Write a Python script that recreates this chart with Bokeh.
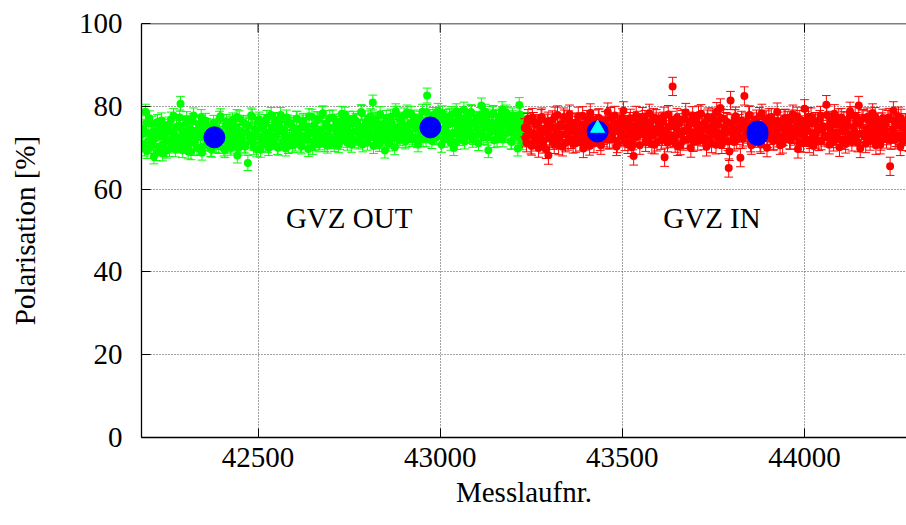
import math
from bokeh.plotting import figure
from bokeh.models import FixedTicker, Label, Span
from bokeh.embed import file_html
from bokeh.resources import INLINE

# ---------------- data ----------------
green_run = [
    42182, 42186, 42191, 42195, 42200, 42205, 42209, 42214, 42219, 42224,
    42228, 42233, 42238, 42242, 42247, 42252, 42257, 42261, 42266, 42271,
    42276, 42280, 42285, 42287, 42292, 42297, 42302, 42306, 42311, 42316,
    42321, 42325, 42330, 42335, 42340, 42344, 42349, 42354, 42359, 42363,
    42368, 42373, 42378, 42383, 42387, 42392, 42397, 42402, 42406, 42411,
    42416, 42421, 42425, 42430, 42435, 42440, 42443, 42448, 42453, 42458,
    42462, 42467, 42472, 42477, 42481, 42486, 42491, 42496, 42500, 42505,
    42510, 42515, 42519, 42524, 42529, 42534, 42538, 42543, 42548, 42553,
    42557, 42562, 42567, 42572, 42576, 42581, 42586, 42591, 42595, 42600,
    42605, 42610, 42614, 42619, 42624, 42629, 42633, 42638, 42643, 42648,
    42652, 42657, 42662, 42667, 42671, 42676, 42681, 42686, 42690, 42695,
    42700, 42705, 42709, 42714, 42719, 42724, 42728, 42733, 42738, 42743,
    42747, 42752, 42757, 42762, 42766, 42771, 42776, 42781, 42785, 42790,
    42795, 42800, 42804, 42809, 42815, 42819, 42823, 42828, 42833, 42838,
    42842, 42848, 42852, 42857, 42861, 42866, 42871, 42875, 42880, 42885,
    42890, 42894, 42899, 42904, 42909, 42913, 42918, 42923, 42928, 42932,
    42937, 42942, 42947, 42951, 42956, 42961, 42964, 42970, 42975, 42980,
    42985, 42989, 42994, 42999, 43004, 43008, 43013, 43018, 43023, 43027,
    43032, 43037, 43042, 43046, 43051, 43056, 43061, 43065, 43070, 43075,
    43080, 43084, 43089, 43094, 43099, 43103, 43108, 43113, 43118, 43122,
    43127, 43132, 43137, 43141, 43146, 43151, 43156, 43160, 43165, 43170,
    43175, 43179, 43184, 43189, 43194, 43198, 43203, 43208, 43213, 43217,
    43222, 43226,
    # second pass
    42184, 42188, 42193, 42198, 42202, 42207, 42212, 42216, 42221, 42226,
    42231, 42235, 42240, 42245, 42249, 42254, 42259, 42264, 42268, 42273,
    42278, 42283, 42289, 42294, 42299, 42304, 42308, 42313, 42318, 42323,
    42327, 42332, 42337, 42342, 42346, 42351, 42356, 42361, 42366, 42370,
    42375, 42380, 42385, 42390, 42394, 42399, 42404, 42409, 42413, 42418,
    42423, 42428, 42432, 42437, 42442, 42446, 42450, 42455, 42460, 42465,
    42469, 42474, 42479, 42484, 42488, 42493, 42498, 42503, 42507, 42512,
    42517, 42521, 42526, 42531, 42536, 42540, 42545, 42550, 42555, 42559,
    42564, 42569, 42574, 42578, 42583, 42588, 42593, 42597, 42602, 42607,
    42612, 42616, 42621, 42626, 42631, 42635, 42640, 42645, 42650, 42654,
    42659, 42664, 42669, 42673, 42678, 42683, 42688, 42692, 42697, 42702,
    42707, 42711, 42716, 42721, 42726, 42730, 42735, 42740, 42745, 42749,
    42754, 42759, 42764, 42768, 42773, 42778, 42783, 42787, 42792, 42797,
    42802, 42806, 42812, 42817, 42821, 42825, 42830, 42835, 42840, 42845,
    42850, 42854, 42859, 42864, 42868, 42873, 42878, 42882, 42887, 42892,
    42896, 42901, 42906, 42911, 42915, 42920, 42925, 42930, 42934, 42939,
    42944, 42949, 42953, 42958, 42963, 42967, 42972, 42977, 42982, 42987,
    42991, 42996, 43001, 43006, 43010, 43015, 43020, 43025, 43029, 43034,
    43039, 43044, 43048, 43053, 43058, 43063, 43067, 43072, 43077, 43082,
    43086, 43091, 43096, 43101, 43105, 43110, 43115, 43120, 43124, 43129,
    43134, 43139, 43143, 43148, 43153, 43158, 43162, 43167, 43172, 43177,
    43181, 43186, 43191, 43196, 43200, 43205, 43210, 43215, 43219, 43224,
    43228, 43230,
]
green_pol = [
    70.8, 74.6, 78.7, 69.2, 73.5, 71.1, 75.8, 67.9, 72.7, 76.2,
    70.1, 73.9, 68.6, 75.1, 71.8, 74.4, 69.7, 76.8, 72.2, 70.5,
    74.9, 71.3, 77.3, 80.6, 69.4, 73.2, 75.9, 70.6, 72.9, 68.9,
    76.4, 71.7, 74.1, 69.9, 73.6, 77.4, 70.3, 72.5, 75.3, 71.0,
    73.8, 69.5, 76.0, 71.9, 74.7, 70.4, 77.6, 72.8, 69.8, 75.4,
    71.5, 74.2, 70.0, 76.6, 72.3, 74.8, 68.1, 77.1, 71.4, 73.7,
    70.7, 75.6, 66.3, 73.0, 77.8, 71.2, 74.5, 69.6, 76.3, 72.6,
    70.9, 75.0, 73.3, 77.2, 69.9, 72.1, 74.9, 71.6, 76.7, 70.2,
    73.9, 77.9, 71.3, 74.3, 69.8, 76.1, 72.4, 75.5, 70.6, 73.1,
    77.0, 71.8, 74.6, 70.3, 76.5, 72.7, 75.2, 69.7, 73.5, 77.5,
    71.1, 74.0, 76.9, 70.8, 73.4, 78.1, 72.0, 75.7, 70.5, 74.8,
    72.2, 77.3, 70.9, 75.1, 73.6, 71.4, 76.4, 74.3, 78.0, 71.9,
    75.4, 72.6, 70.7, 77.0, 73.9, 76.2, 71.5, 74.7, 78.4, 72.9,
    75.8, 71.2, 73.7, 77.6, 80.9, 72.4, 76.6, 74.1, 70.9, 75.3,
    73.0, 69.3, 77.2, 74.6, 71.7, 76.0, 73.4, 70.1, 78.2, 75.0,
    72.3, 76.8, 74.2, 71.5, 78.5, 73.6, 75.9, 72.1, 77.3, 74.9,
    71.8, 76.3, 73.2, 78.7, 74.5, 72.0, 82.6, 76.6, 73.8, 77.9,
    75.2, 72.5, 78.9, 74.0, 70.7, 76.9, 73.5, 77.4, 75.6, 72.2,
    78.1, 69.9, 76.2, 71.4, 77.7, 73.9, 75.5, 79.2, 72.8, 76.4,
    74.1, 78.6, 71.9, 75.8, 77.0, 73.3, 76.7, 80.2, 72.6, 75.1,
    77.5, 69.4, 73.7, 76.1, 78.4, 74.4, 72.0, 77.2, 75.7, 79.3,
    73.1, 76.5, 78.0, 74.7, 71.5, 77.8, 75.3, 72.9, 69.8, 80.3,
    74.2, 71.3,
    # second pass
    73.4, 69.8, 75.9, 71.6, 77.1, 70.4, 73.9, 72.1, 68.7, 75.0,
    72.8, 76.6, 70.9, 73.2, 69.3, 75.6, 71.4, 73.8, 77.7, 69.6,
    72.4, 75.3, 70.7, 74.0, 71.9, 76.9, 69.1, 74.6, 71.2, 77.8,
    73.0, 70.0, 75.7, 72.6, 68.8, 74.3, 76.5, 71.1, 73.5, 69.7,
    75.1, 72.2, 70.6, 74.4, 77.0, 71.8, 73.3, 69.4, 76.2, 72.9,
    70.5, 75.8, 73.6, 71.0, 77.4, 69.9, 74.1, 72.4, 76.0, 70.3,
    73.8, 75.3, 71.7, 77.5, 70.1, 74.0, 72.8, 76.8, 69.5, 74.7,
    72.0, 76.2, 70.6, 73.7, 77.9, 71.3, 75.1, 72.9, 70.0, 76.4,
    74.5, 71.5, 73.1, 77.3, 70.4, 75.9, 72.6, 74.8, 71.0, 77.0,
    73.3, 70.7, 76.1, 72.4, 74.9, 71.9, 77.6, 73.6, 70.2, 75.5,
    72.8, 76.8, 71.3, 74.2, 78.3, 70.9, 75.3, 73.0, 77.2, 71.6,
    74.6, 72.1, 76.3, 70.6, 75.7, 78.2, 72.9, 74.4, 71.2, 77.0,
    73.5, 75.9, 71.8, 76.5, 74.0, 72.3, 78.6, 70.8, 75.1, 73.2,
    77.1, 72.7, 75.4, 70.4, 76.8, 73.9, 71.6, 78.1, 74.6, 72.2,
    76.1, 73.3, 71.0, 77.5, 75.0, 72.6, 78.8, 74.2, 71.8, 76.4,
    73.7, 77.8, 71.9, 75.5, 73.0, 78.2, 72.5, 76.3, 74.8, 70.8,
    77.0, 74.3, 72.1, 76.5, 78.6, 73.4, 75.8, 71.6, 77.4, 74.0,
    72.7, 76.9, 74.5, 78.3, 71.9, 75.2, 73.6, 77.6, 71.2, 76.0,
    73.4, 78.8, 75.0, 72.3, 76.7, 74.2, 71.5, 77.3, 75.4, 73.0,
    78.4, 72.6, 76.2, 74.8, 71.1, 77.9, 73.5, 75.9, 78.7, 72.4,
    76.0, 74.1, 78.1, 71.8, 75.6, 73.2, 77.5, 74.9, 72.0, 76.8,
    78.5, 73.7, 75.3, 71.4, 77.1, 74.4, 76.6, 72.7, 78.0, 75.2,
    73.5, 76.7,
]
green_err = 1.8

red_run = [
    43232, 43237, 43241, 43246, 43251, 43256, 43260, 43265, 43270, 43275,
    43279, 43284, 43289, 43294, 43297, 43303, 43308, 43313, 43317, 43322,
    43327, 43332, 43336, 43341, 43346, 43351, 43355, 43360, 43365, 43370,
    43374, 43379, 43384, 43389, 43393, 43398, 43403, 43408, 43412, 43417,
    43422, 43427, 43431, 43436, 43441, 43446, 43450, 43455, 43460, 43465,
    43469, 43474, 43479, 43484, 43488, 43493, 43498, 43503, 43507, 43512,
    43517, 43522, 43526, 43531, 43536, 43541, 43545, 43550, 43555, 43560,
    43564, 43569, 43574, 43579, 43583, 43588, 43593, 43598, 43602, 43607,
    43612, 43616, 43621, 43626, 43631, 43638, 43641, 43645, 43650, 43655,
    43659, 43664, 43669, 43674, 43678, 43683, 43688, 43693, 43697, 43702,
    43707, 43712, 43716, 43721, 43726, 43731, 43735, 43740, 43745, 43750,
    43754, 43759, 43764, 43769, 43773, 43778, 43783, 43788, 43792, 43794,
    43797, 43802, 43807, 43811, 43816, 43821, 43824, 43830, 43835, 43840,
    43845, 43849, 43854, 43859, 43864, 43868, 43873, 43878, 43883, 43887,
    43892, 43897, 43902, 43906, 43911, 43916, 43921, 43925, 43930, 43935,
    43940, 43944, 43949, 43954, 43959, 43963, 43968, 43973, 43978, 43982,
    43987, 43992, 43997, 44000, 44006, 44011, 44016, 44020, 44025, 44030,
    44035, 44039, 44044, 44049, 44054, 44060, 44063, 44068, 44073, 44077,
    44082, 44087, 44092, 44096, 44101, 44106, 44111, 44115, 44120, 44125,
    44130, 44134, 44139, 44144, 44149, 44153, 44158, 44163, 44168, 44172,
    44177, 44182, 44187, 44191, 44196, 44201, 44206, 44210, 44215, 44220,
    44225, 44229, 44235, 44239, 44244, 44249, 44253, 44258, 44263, 44268,
    44272, 44277, 44282, 44287,
    # second pass
    43234, 43239, 43244, 43249, 43253, 43258, 43263, 43268, 43272, 43277,
    43282, 43287, 43291, 43296, 43300, 43305, 43310, 43315, 43320, 43325,
    43329, 43334, 43339, 43344, 43348, 43353, 43358, 43363, 43367, 43372,
    43377, 43382, 43386, 43391, 43396, 43401, 43405, 43410, 43415, 43420,
    43424, 43429, 43434, 43439, 43443, 43448, 43453, 43458, 43462, 43467,
    43472, 43477, 43481, 43486, 43491, 43496, 43500, 43505, 43510, 43515,
    43519, 43524, 43529, 43534, 43538, 43543, 43548, 43553, 43557, 43562,
    43567, 43572, 43576, 43581, 43586, 43591, 43595, 43600, 43605, 43610,
    43614, 43619, 43624, 43629, 43634, 43636, 43643, 43648, 43652, 43657,
    43662, 43667, 43671, 43676, 43681, 43686, 43690, 43695, 43700, 43705,
    43709, 43714, 43719, 43724, 43728, 43733, 43738, 43743, 43747, 43752,
    43757, 43762, 43766, 43771, 43776, 43781, 43785, 43790, 43799, 43804,
    43809, 43814, 43819, 43827, 43832, 43838, 43842, 43847, 43852, 43857,
    43861, 43866, 43871, 43876, 43880, 43885, 43890, 43895, 43899, 43904,
    43909, 43914, 43918, 43923, 43928, 43933, 43937, 43942, 43947, 43952,
    43956, 43961, 43966, 43970, 43975, 43980, 43985, 43989, 43994, 43999,
    44003, 44008, 44013, 44018, 44023, 44027, 44032, 44037, 44042, 44046,
    44051, 44056, 44061, 44066, 44070, 44075, 44080, 44084, 44089, 44094,
    44099, 44104, 44108, 44113, 44118, 44123, 44127, 44132, 44137, 44142,
    44146, 44151, 44156, 44161, 44165, 44170, 44175, 44180, 44184, 44189,
    44194, 44199, 44203, 44208, 44213, 44218, 44222, 44227, 44232, 44237,
    44241, 44246, 44251, 44256, 44260, 44265, 44270, 44275, 44279, 44284,
]
red_pol = [
    74.8, 71.2, 77.0, 73.1, 70.4, 76.3, 72.6, 75.5, 69.9, 74.0,
    77.4, 71.7, 73.8, 75.9, 68.2, 72.9, 76.7, 70.8, 74.5, 77.9,
    72.3, 75.1, 70.2, 76.9, 73.5, 71.6, 78.1, 74.2, 70.9, 76.0,
    73.0, 77.6, 71.4, 75.3, 69.8, 74.7, 76.8, 72.1, 78.4, 73.7,
    71.0, 75.8, 73.3, 77.2, 70.6, 74.9, 72.4, 76.5, 78.6, 71.9,
    75.0, 73.6, 77.8, 70.3, 74.4, 76.2, 72.7, 78.9, 71.5, 75.6,
    73.2, 77.1, 70.1, 68.0, 72.5, 76.6, 74.1, 75.4, 77.5, 73.4,
    71.3, 76.1, 78.3, 72.8, 74.6, 70.7, 77.0, 73.9, 75.7, 71.8,
    76.4, 67.7, 74.3, 78.0, 72.2, 84.8, 75.3, 71.1, 77.3, 73.6,
    70.5, 76.8, 74.0, 78.5, 72.0, 75.5, 69.9, 77.7, 73.1, 76.3,
    71.6, 74.8, 78.2, 72.6, 75.9, 70.2, 77.4, 73.8, 71.0, 76.7,
    74.2, 78.7, 72.3, 79.6, 70.8, 77.0, 73.5, 76.1, 65.1, 69.1,
    81.4, 74.5, 71.4, 77.6, 73.0, 75.8, 67.6, 72.1, 82.5, 76.2,
    73.3, 77.9, 70.6, 75.0, 72.7, 76.9, 74.1, 71.2, 78.3, 73.7,
    75.4, 70.0, 77.2, 73.0, 76.0, 71.7, 74.9, 78.6, 72.4, 75.7,
    70.9, 77.0, 73.6, 76.5, 71.9, 74.5, 78.1, 72.8, 75.2, 69.7,
    76.8, 73.2, 71.1, 79.4, 74.7, 77.5, 72.0, 75.9, 70.4, 76.3,
    73.9, 71.5, 77.8, 74.4, 72.6, 80.4, 75.1, 70.7, 76.6, 73.4,
    78.2, 72.2, 75.6, 70.1, 77.3, 74.0, 71.8, 76.4, 73.1, 78.8,
    71.4, 75.0, 77.7, 72.9, 80.2, 69.8, 76.9, 73.5, 71.0, 77.4,
    74.3, 72.4, 78.4, 75.7, 70.6, 76.2, 73.8, 71.6, 77.1, 74.6,
    72.1, 76.8, 65.5, 73.3, 78.9, 71.9, 75.5, 77.6, 70.3, 74.9,
    72.7, 76.0, 73.9, 71.3,
    # second pass
    72.4, 76.1, 74.0, 70.7, 77.3, 73.5, 71.4, 75.8, 73.0, 77.0,
    70.9, 74.6, 69.6, 76.4, 72.2, 75.0, 71.8, 77.6, 73.4, 70.5,
    75.6, 73.1, 77.4, 71.2, 74.8, 76.7, 72.0, 75.3, 73.9, 71.1,
    76.2, 72.8, 74.1, 77.7, 71.6, 73.3, 75.9, 70.4, 74.5, 76.9,
    72.6, 74.3, 77.1, 71.5, 75.4, 73.0, 76.6, 71.9, 74.7, 77.5,
    72.1, 76.0, 74.2, 71.0, 75.7, 73.7, 77.2, 72.4, 74.9, 70.8,
    76.3, 74.0, 71.7, 75.2, 77.8, 72.9, 70.6, 75.5, 73.2, 76.8,
    74.4, 72.3, 75.9, 70.9, 77.3, 73.6, 71.4, 76.2, 74.8, 72.7,
    77.6, 73.5, 71.2, 75.1, 73.0, 76.6, 72.5, 74.7, 70.3, 76.0,
    73.2, 71.6, 77.0, 74.2, 72.1, 76.4, 73.8, 71.3, 75.7, 74.1,
    77.9, 72.8, 75.3, 71.7, 74.5, 76.9, 72.4, 75.0, 77.4, 73.1,
    70.7, 75.6, 73.4, 77.2, 72.0, 74.7, 76.3, 71.5, 75.8, 73.0,
    77.0, 71.9, 74.3, 76.6, 72.6, 75.2, 73.7, 77.8, 71.2, 74.9,
    76.2, 72.3, 74.6, 77.5, 70.8, 75.4, 73.0, 76.7, 72.2, 74.1,
    77.3, 71.6, 75.1, 73.5, 76.4, 70.6, 74.8, 72.7, 77.1, 73.9,
    75.8, 71.8, 76.9, 73.2, 74.4, 77.6, 71.3, 75.5, 73.8, 72.5,
    76.6, 74.2, 71.0, 77.4, 73.3, 75.9, 72.1, 74.6, 76.8, 71.7,
    75.2, 73.0, 77.9, 72.4, 74.7, 76.1, 71.4, 75.6, 73.6, 77.2,
    72.0, 74.9, 76.5, 70.9, 75.3, 73.1, 77.7, 72.6, 74.0, 76.3,
    71.2, 75.8, 73.4, 77.0, 72.8, 74.5, 76.7, 71.6, 75.1, 73.7,
    77.5, 72.2, 74.8, 70.7, 76.2, 73.5, 75.7, 72.9, 77.3, 71.8,
    74.3, 76.4, 72.5, 75.9, 73.0, 77.1, 71.5, 74.6, 76.0, 72.8,
]
red_err = 2.2

blue_run = [42380, 42973, 43432, 43871, 43871]
blue_pol = [72.5, 74.9, 73.9, 73.9, 73.1]

tri_run = [43432]
tri_pol = [74.7]

region_labels = ["GVZ OUT", "GVZ IN"]
region_label_run = [42750, 43746]
region_label_pol = [52.9, 52.9]

x_ticks = [42500, 43000, 43500, 44000]
y_ticks = [0, 20, 40, 60, 80, 100]

FONT = "Liberation Serif"
FS = "29px"
CAP_HALF = 12  # half width of an error-bar cap, in run numbers (about 4.5 px)

# ---------------- figure ----------------
p = figure(width=906, height=525, x_range=(42180, 44280), y_range=(0, 100),
           output_backend="svg", toolbar_location=None,
           min_border_left=141, min_border_right=0, min_border_top=23,
           min_border_bottom=88)
p.outline_line_color = None
p.background_fill_color = "white"
p.border_fill_color = "white"

p.xaxis.ticker = FixedTicker(ticks=x_ticks)
p.yaxis.ticker = FixedTicker(ticks=y_ticks)
p.xaxis.axis_label = "Messlaufnr."
p.yaxis.axis_label = "Polarisation [%]"
p.xaxis.major_label_text_font = FONT
p.yaxis.major_label_text_font = FONT
p.xaxis.axis_label_text_font = FONT
p.yaxis.axis_label_text_font = FONT
p.xaxis.major_label_text_font_size = FS
p.yaxis.major_label_text_font_size = FS
p.xaxis.axis_label_text_font_size = FS
p.yaxis.axis_label_text_font_size = FS
p.xaxis.axis_label_text_font_style = "normal"
p.yaxis.axis_label_text_font_style = "normal"
for ax in (p.xaxis[0], p.yaxis[0]):
    ax.axis_line_color = "black"
    ax.axis_line_width = 1.3
    ax.major_tick_line_color = "black"
    ax.major_tick_in = 9
    ax.major_tick_out = 0
    ax.minor_tick_line_color = None
    ax.major_label_text_color = "black"
    ax.axis_label_text_color = "black"
p.xaxis.major_label_standoff = 10
p.xaxis.axis_label_standoff = 6
p.yaxis.major_label_standoff = 19
p.yaxis.axis_label_standoff = 35

# top border of the frame
p.add_layout(Span(location=100, dimension="width", line_color="black",
                  line_width=1.3))

p.xgrid.ticker = FixedTicker(ticks=x_ticks)
p.ygrid.ticker = FixedTicker(ticks=y_ticks)
for g in (p.xgrid[0], p.ygrid[0]):
    g.grid_line_color = "#444444"
    g.grid_line_dash = "1 2"
    g.grid_line_width = 1

NAN = float("nan")

def series(runs, pols, err, color):
    # all error bars with caps as one broken line
    bx, by = [], []
    for r, v in zip(runs, pols):
        lo, hi = v - err, v + err
        bx += [r, r, NAN, r - CAP_HALF, r + CAP_HALF, NAN,
               r - CAP_HALF, r + CAP_HALF, NAN]
        by += [lo, hi, NAN, lo, lo, NAN, hi, hi, NAN]
    p.line(bx, by, line_color=color, line_width=1)
    # all points as zero-length round-capped strokes of one broken line
    dx, dy = [], []
    for r, v in zip(runs, pols):
        dx += [r, r, NAN]
        dy += [v, v, NAN]
    p.line(dx, dy, line_color=color, line_width=8, line_cap="round")

series(green_run, green_pol, green_err, "#00ff00")
series(red_run, red_pol, red_err, "#ff0000")

p.scatter(blue_run, blue_pol, marker="circle", size=21,
          fill_color="#0000ff", line_color="#0000ff")
p.scatter(tri_run, tri_pol, marker="triangle", size=14,
          fill_color="#00ffff", line_color="#00ffff")

# mirrored inward ticks on the top border (outer half clipped by the frame)
p.scatter(x_ticks, [100] * len(x_ticks), marker="dash", size=18,
          angle=math.pi / 2, line_color="black", line_width=1)

for t, xr, yp in zip(region_labels, region_label_run, region_label_pol):
    p.add_layout(Label(x=xr, y=yp, text=t, text_align="center",
                       text_baseline="alphabetic", text_font=FONT,
                       text_font_size=FS, text_color="black"))

open("out.html", "w").write(file_html(p, INLINE))
